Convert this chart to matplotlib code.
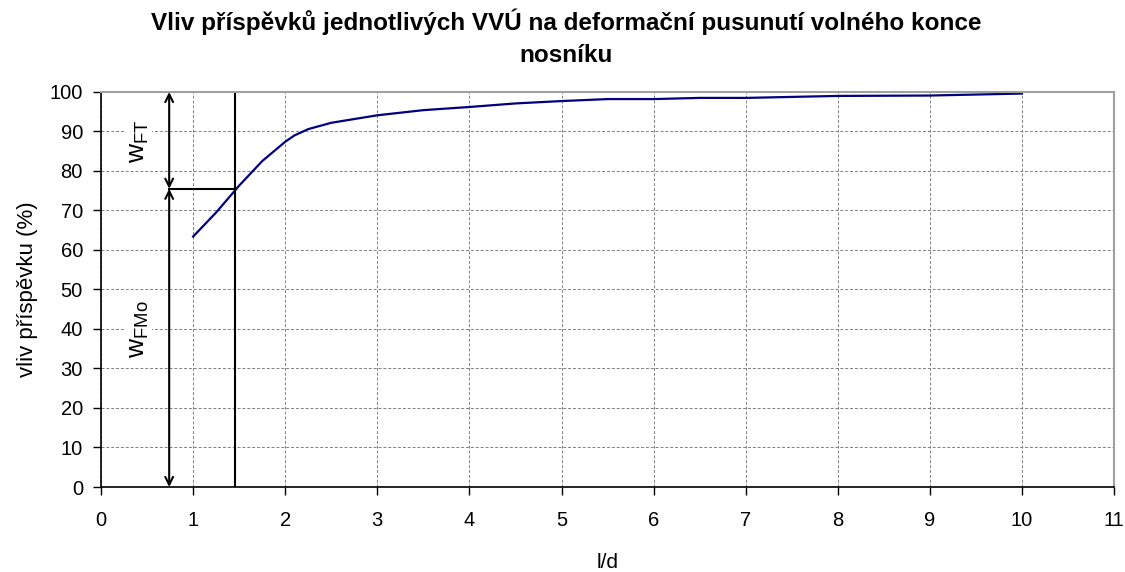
import numpy as np
import matplotlib.pyplot as plt

plt.rcParams['font.family'] = ['Liberation Sans', 'DejaVu Sans']

# data
l_d = [1, 1.25, 1.5, 1.75, 2, 2.1, 2.25, 2.5, 3, 3.5, 4, 4.5, 5, 5.5, 6, 6.5, 7, 8, 9, 10]
vliv = [63.4, 69.5, 76.3, 82.5, 87.4, 89.0, 90.6, 92.2, 94.1, 95.4, 96.2, 97.1,
        97.7, 98.2, 98.2, 98.5, 98.5, 99.0, 99.1, 99.6]

x_mark = 1.45      # vertical marker line
y_mark = 75.5      # split between the two contributions
x_arrow = 0.74

fig = plt.figure(figsize=(11.25, 5.72), dpi=100)
ax = fig.add_axes([0.0898, 0.1486, 0.9005, 0.6906])

ax.plot(l_d, vliv, color='#000080', linewidth=1.6)

ax.set_xlim(0, 11)
ax.set_ylim(0, 100)
ax.set_xticks(np.arange(0, 12, 1))
ax.set_yticks(np.arange(0, 110, 10))
ax.tick_params(labelsize=14.5, direction='out', length=6, width=1, color='black')
ax.tick_params(axis='x', pad=11)
ax.tick_params(axis='y', pad=7)
ax.grid(True, color='#808080', linestyle=(0, (3, 2)), linewidth=0.7)
ax.set_axisbelow(True)
ax.spines['top'].set_color('#a0a0a0')
ax.spines['right'].set_color('#a0a0a0')
ax.spines['top'].set_linewidth(1.5)
ax.spines['right'].set_linewidth(1.5)
ax.spines['left'].set_linewidth(1.2)
ax.spines['bottom'].set_linewidth(1.2)

ax.set_xlabel('l/d', fontsize=15, labelpad=17)
ax.set_ylabel('vliv příspěvku (%)', fontsize=16, labelpad=8)

# marker lines and arrows
ax.plot([x_mark, x_mark], [0, 100], color='black', linewidth=1.5)
ax.plot([x_arrow, x_mark], [y_mark, y_mark], color='black', linewidth=1.5)
ax.annotate('', xy=(x_arrow, 100), xytext=(x_arrow, y_mark),
            arrowprops=dict(arrowstyle='<->', color='black', lw=1.5,
                            shrinkA=0, shrinkB=0, mutation_scale=14))
ax.annotate('', xy=(x_arrow, y_mark), xytext=(x_arrow, 0),
            arrowprops=dict(arrowstyle='<->', color='black', lw=1.5,
                            shrinkA=0, shrinkB=0, mutation_scale=14))

ax.text(0.41, 87.5, r'w$_{\mathregular{FT}}$', rotation=90, fontsize=19,
        ha='center', va='center', bbox=dict(facecolor='white', edgecolor='none', pad=1))
ax.text(0.41, 40, r'w$_{\mathregular{FMo}}$', rotation=90, fontsize=19,
        ha='center', va='center', bbox=dict(facecolor='white', edgecolor='none', pad=1))

fig.text(0.503, 0.985, 'Vliv příspěvků jednotlivých VVÚ na deformační pusunutí volného konce\nnosníku',
         ha='center', va='top', fontsize=17.5, fontweight='bold', linespacing=1.5)

fig.savefig('out.png', dpi=100)
